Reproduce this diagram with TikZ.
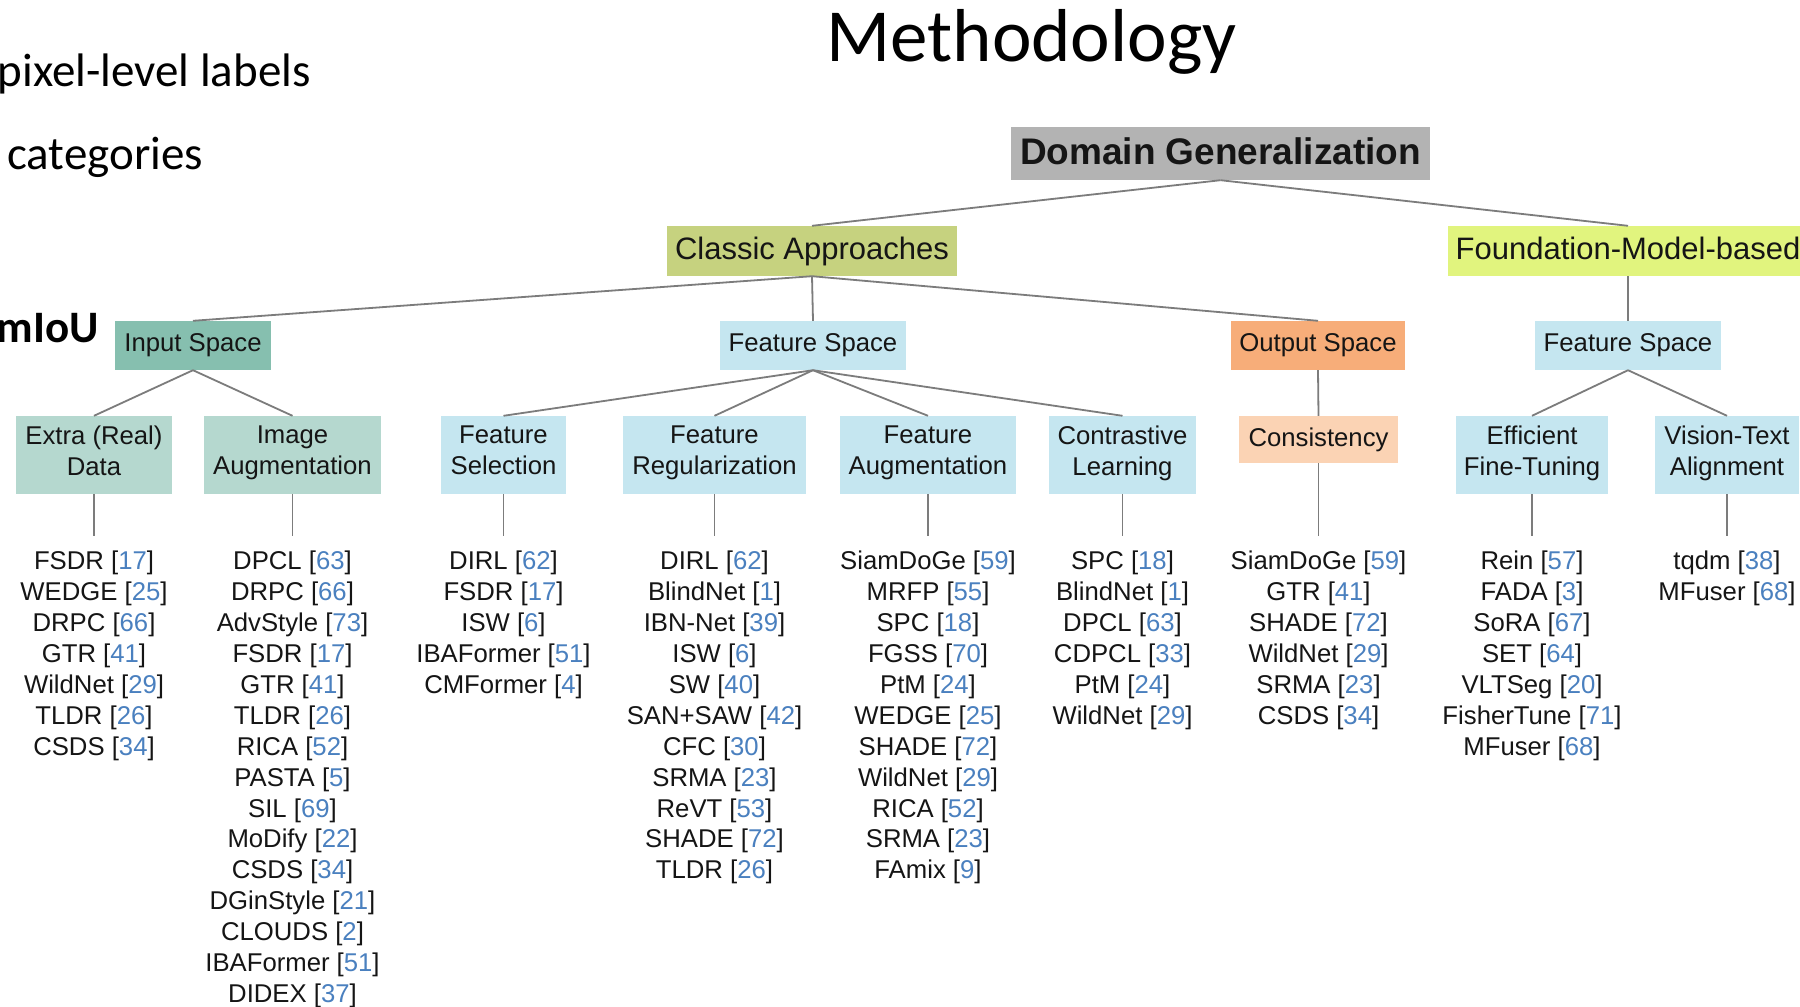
\documentclass[tikz,border=0pt]{standalone}
\usepackage{fontspec}
\setmainfont{Liberation Sans}
\newfontfamily\slidefont{Carlito}
\definecolor{ink}{HTML}{151515}
\definecolor{rootgray}{HTML}{B3B3B3}
\definecolor{classic}{HTML}{C6D27F}
\definecolor{found}{HTML}{E1F47E}
\definecolor{inputdk}{HTML}{86BFAF}
\definecolor{inputlt}{HTML}{B5D8CF}
\definecolor{featblue}{HTML}{C5E6F0}
\definecolor{outdk}{HTML}{F7AD79}
\definecolor{outlt}{HTML}{FBD3B4}
\definecolor{citeblue}{HTML}{4A80BF}
\definecolor{linkgray}{HTML}{7C7C7C}
\newcommand\treefont{\fontsize{25.7}{30.9}\selectfont}
\newcommand\mref[2]{#1 [\textcolor{citeblue}{#2}]}
\begin{document}
\begin{tikzpicture}[x=1pt,y=-1pt,
  every node/.style={text=ink},
  lvlone/.style={fill=rootgray, minimum height=53pt, inner sep=0pt,
    text height=27pt, text depth=4.5pt,
    font=\bfseries\fontsize{37}{44}\selectfont},
  lvltwo/.style={minimum height=50pt, inner sep=0pt, text height=23pt, text depth=7pt,
    font=\fontsize{31}{37}\selectfont},
  lvlthree/.style={minimum height=49pt, inner sep=0pt, font=\treefont},
  lvlfour/.style={minimum height=78pt, inner sep=0pt, align=center, font=\treefont,
    execute at begin node=\rule{0pt}{28.6pt}, execute at end node=\strut},
  leaves/.style={anchor=north, inner sep=0pt, align=center, font=\treefont},
  slide/.style={inner sep=0pt, text=black, font=\slidefont\fontsize{47}{56}\selectfont},
  link/.style={draw=linkgray, line width=1.8pt},
  tolist/.style={link, shorten >=15pt},
]
\fill[white] (0,0) rectangle (1800,1007);
\useasboundingbox (0,0) rectangle (1800,1007);

% slide text
\node[slide, font=\slidefont\fontsize{75}{90}\selectfont, anchor=base] (title) at (1031.5,61) {Methodology};
\node[slide, anchor=base east] (pix) at (311,86) {pixel-level labels};
\node[slide, anchor=base west] (cat) at (7,169.5) {categories};
\node[slide, font=\slidefont\bfseries\fontsize{45}{54}\selectfont, anchor=base east] (miou) at (99,342) {mIoU};

% top levels
\node[lvlone, minimum width=419pt] (root) at (1220.5,153.5) {Domain Generalization};
\node[lvltwo, fill=classic, minimum width=290pt] (ca) at (812,251) {Classic Approaches};
\node[lvltwo, fill=found, minimum width=360pt] (fm) at (1628,251) {Foundation-Model-based};

\node[lvlthree, fill=inputdk, minimum width=156pt] (ins) at (193,345.5) {Input Space};
\node[lvlthree, fill=featblue, minimum width=186pt] (fs) at (813,345.5) {Feature Space};
\node[lvlthree, fill=outdk, minimum width=174pt] (os) at (1318,345.5) {Output Space};
\node[lvlthree, fill=featblue, minimum width=186pt] (fs2) at (1628,345.5) {Feature Space};

% method families
\node[lvlfour, fill=inputlt, minimum width=156pt] (ea) at (94,455) {Extra (Real)\\Data};
\node[lvlfour, fill=inputlt, minimum width=177pt] (ia) at (292.5,455) {Image\\Augmentation};
\node[lvlfour, fill=featblue, minimum width=125pt] (fsel) at (503.5,455) {Feature\\Selection};
\node[lvlfour, fill=featblue, minimum width=183pt] (freg) at (714.5,455) {Feature\\Regularization};
\node[lvlfour, fill=featblue, minimum width=176pt] (faug) at (928,455) {Feature\\Augmentation};
\node[lvlfour, fill=featblue, minimum width=147pt] (cl) at (1122.5,455) {Contrastive\\Learning};
\node[lvlthree, fill=outlt, minimum width=159pt, minimum height=47pt] (con) at (1318.5,439.5) {Consistency};
\node[lvlfour, fill=featblue, minimum width=152pt] (eft) at (1532,455) {Efficient\\Fine-Tuning};
\node[lvlfour, fill=featblue, minimum width=144pt] (vta) at (1727,455) {Vision-Text\\Alignment};

% method lists
\node[leaves] (ea-l) at (94,551) {\mref{FSDR}{17}\\\mref{WEDGE}{25}\\\mref{DRPC}{66}\\\mref{GTR}{41}\\\mref{WildNet}{29}\\\mref{TLDR}{26}\\\mref{CSDS}{34}};
\node[leaves] (ia-l) at (292.5,551) {\mref{DPCL}{63}\\\mref{DRPC}{66}\\\mref{AdvStyle}{73}\\\mref{FSDR}{17}\\\mref{GTR}{41}\\\mref{TLDR}{26}\\\mref{RICA}{52}\\\mref{PASTA}{5}\\\mref{SIL}{69}\\\mref{MoDify}{22}\\\mref{CSDS}{34}\\\mref{DGinStyle}{21}\\\mref{CLOUDS}{2}\\\mref{IBAFormer}{51}\\\mref{DIDEX}{37}};
\node[leaves] (fsel-l) at (503.5,551) {\mref{DIRL}{62}\\\mref{FSDR}{17}\\\mref{ISW}{6}\\\mref{IBAFormer}{51}\\\mref{CMFormer}{4}};
\node[leaves] (freg-l) at (714.5,551) {\mref{DIRL}{62}\\\mref{BlindNet}{1}\\\mref{IBN-Net}{39}\\\mref{ISW}{6}\\\mref{SW}{40}\\\mref{SAN+SAW}{42}\\\mref{CFC}{30}\\\mref{SRMA}{23}\\\mref{ReVT}{53}\\\mref{SHADE}{72}\\\mref{TLDR}{26}};
\node[leaves] (faug-l) at (928,551) {\mref{SiamDoGe}{59}\\\mref{MRFP}{55}\\\mref{SPC}{18}\\\mref{FGSS}{70}\\\mref{PtM}{24}\\\mref{WEDGE}{25}\\\mref{SHADE}{72}\\\mref{WildNet}{29}\\\mref{RICA}{52}\\\mref{SRMA}{23}\\\mref{FAmix}{9}};
\node[leaves] (cl-l) at (1122.5,551) {\mref{SPC}{18}\\\mref{BlindNet}{1}\\\mref{DPCL}{63}\\\mref{CDPCL}{33}\\\mref{PtM}{24}\\\mref{WildNet}{29}};
\node[leaves] (con-l) at (1318.5,551) {\mref{SiamDoGe}{59}\\\mref{GTR}{41}\\\mref{SHADE}{72}\\\mref{WildNet}{29}\\\mref{SRMA}{23}\\\mref{CSDS}{34}};
\node[leaves] (eft-l) at (1532,551) {\mref{Rein}{57}\\\mref{FADA}{3}\\\mref{SoRA}{67}\\\mref{SET}{64}\\\mref{VLTSeg}{20}\\\mref{FisherTune}{71}\\\mref{MFuser}{68}};
\node[leaves] (vta-l) at (1727,551) {\mref{tqdm}{38}\\\mref{MFuser}{68}};

% tree connectors
\draw[link] (root.south) -- (ca.north);
\draw[link] (root.south) -- (fm.north);
\draw[link] (ca.south) -- (ins.north);
\draw[link] (ca.south) -- (fs.north);
\draw[link] (ca.south) -- (os.north);
\draw[link] (fm.south) -- (fs2.north);
\draw[link] (ins.south) -- (ea.north);
\draw[link] (ins.south) -- (ia.north);
\draw[link] (fs.south) -- (fsel.north);
\draw[link] (fs.south) -- (freg.north);
\draw[link] (fs.south) -- (faug.north);
\draw[link] (fs.south) -- (cl.north);
\draw[link] (os.south) -- (con.north);
\draw[link] (fs2.south) -- (eft.north);
\draw[link] (fs2.south) -- (vta.north);
\foreach \n in {ea,ia,fsel,freg,faug,cl,con,eft,vta}
  \draw[tolist] (\n.south) -- (\n-l.north);
\end{tikzpicture}
\end{document}
